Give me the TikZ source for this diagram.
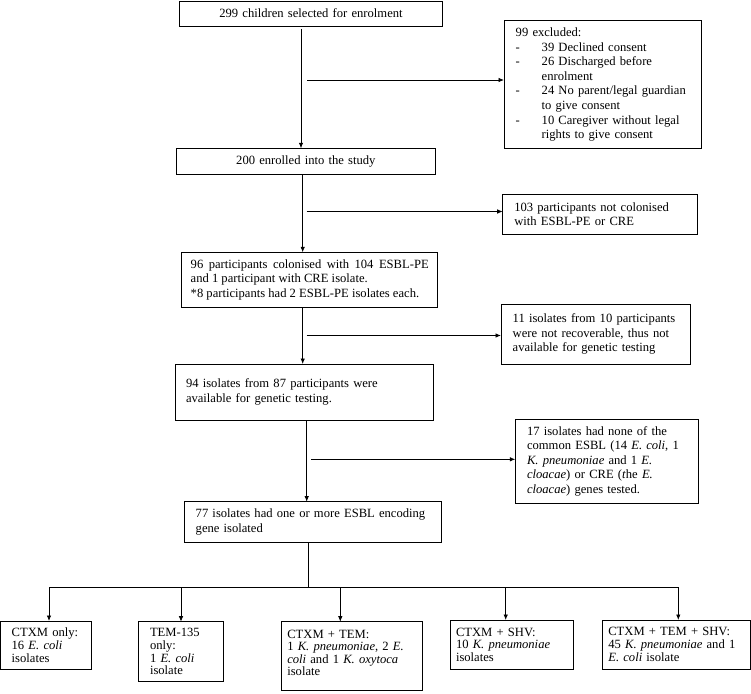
\documentclass[tikz,border=0pt]{standalone}
\usepackage{fontspec}
\setmainfont{Liberation Serif}
\usetikzlibrary{arrows.meta}
\begin{document}
\begin{tikzpicture}[x=1pt,y=-1pt,
  box/.style={draw, line width=0.9pt, anchor=north west, inner ysep=0pt, outer sep=0pt, align=left, font=\fontsize{12.6}{14.6}\selectfont},
  lowbox/.style={box, font=\fontsize{12.6}{12.6}\selectfont},
  arr/.style={-{Latex[length=5.5pt,width=4.5pt]}, line width=0.8pt},
  link/.style={line width=0.8pt}]
\useasboundingbox (0,0) rectangle (751,693);

% main column
\node[box, align=center, inner xsep=4pt, text width=255.4pt, minimum height=25pt] (b1) at (179.3,1) {299 children selected for enrolment};
\node[box, align=center, inner xsep=4pt, text width=250.3pt, minimum height=26pt] (b2) at (176.7,148.3) {200 enrolled into the study};
\node[box, align=justify, inner xsep=9pt, text width=238pt, minimum height=54.7pt] (b3) at (181.7,252.3) {96 participants colonised with 104 ESBL-PE\linebreak and 1 participant with CRE isolate.\\{*}8 participants had 2 ESBL-PE isolates each.};
\node[box, inner xsep=11pt, text width=236.3pt, minimum height=56pt] (b4) at (175,364) {94 isolates from 87 participants were\\available for genetic testing.};
\node[box, inner xsep=11.7pt, text width=234.3pt, minimum height=40.3pt] (b5) at (184,501.7) {77 isolates had one or more ESBL encoding\\gene isolated};

% side boxes
\node[box, inner xsep=11.7pt, text width=174.3pt, minimum height=127.6pt] (ex) at (504,20.7) {99 excluded:\\
\makebox[26pt][l]{-}39 Declined consent\\
\makebox[26pt][l]{-}26 Discharged before\\
\hspace*{26pt}enrolment\\
\makebox[26pt][l]{-}24 No parent/legal guardian\\
\hspace*{26pt}to give consent\\
\makebox[26pt][l]{-}10 Caregiver without legal\\
\hspace*{26pt}rights to give consent};
\node[box, inner xsep=11.6pt, text width=171.1pt, minimum height=40.3pt] (nc) at (502.7,194) {103 participants not colonised\\with ESBL-PE or CRE};
\node[box, inner xsep=11.7pt, text width=165.6pt, minimum height=60.3pt] (nr) at (501,304) {11 isolates from 10 participants\\were not recoverable, thus not\\available for genetic testing};
\node[box, inner xsep=11.7pt, text width=160pt, minimum height=84pt] (nn) at (515.3,419.3) {17 isolates had none of the\\common ESBL (14 \textit{E. coli}, 1\\\textit{K. pneumoniae} and 1 \textit{E.}\\\textit{cloacae}) or CRE (\textit{t}he \textit{E.}\\\textit{cloacae}) genes tested.};

% outcome boxes
\node[lowbox, inner xsep=11.1pt, text width=68.9pt, minimum height=48.3pt] (o1) at (0.6,621) {CTXM only:\\16 \textit{E. coli}\\isolates};
\node[lowbox, inner xsep=11.3pt, text width=62pt, minimum height=60pt] (o2) at (138.7,621.7) {TEM-135\\only:\\1 \textit{E. coli}\\isolate};
\node[lowbox, inner xsep=5.6pt, text width=129.4pt, minimum height=69pt] (o3) at (281.7,621.7) {CTXM + TEM:\\1 \textit{K. pneumoniae}, 2 \textit{E.}\\\textit{coli} and 1 \textit{K. oxytoca}\\isolate\\[-6pt]\mbox{}};
\node[lowbox, inner xsep=6pt, text width=111.3pt, minimum height=49pt] (o4) at (450,620) {CTXM + SHV:\\10 \textit{K. pneumoniae}\\isolates};
\node[lowbox, inner xsep=6pt, text width=136.1pt, minimum height=49pt] (o5) at (602.3,620) {CTXM + TEM + SHV:\\45 \textit{K. pneumoniae} and 1\\\textit{E. coli} isolate};

% vertical connectors
\coordinate (a1) at (301,0);
\coordinate (a2) at (302.7,0);
\coordinate (a3) at (302.7,0);
\coordinate (a4) at (306.7,0);
\draw[arr] ([yshift=-3pt]b1.south -| a1) -- (b2.north -| a1);
\draw[arr] (b2.south -| a2) -- (b3.north -| a2);
\draw[arr] (b3.south -| a3) -- (b4.north -| a3);
\draw[arr] (b4.south -| a4) -- (b5.north -| a4);

% side arrows
\coordinate (s1) at (307,80);
\coordinate (s2) at (306.7,211.5);
\coordinate (s3) at (306.7,335.5);
\coordinate (s4) at (311.3,459.3);
\draw[arr] (s1) -- (ex.west |- s1);
\draw[arr] (s2) -- (nc.west |- s2);
\draw[arr] (s3) -- (nr.west |- s3);
\draw[arr] (s4) -- (nn.west |- s4);

% distribution
\coordinate (j0) at (308.3,587);
\coordinate (j1) at (49,587);
\coordinate (j2) at (181,587);
\coordinate (j3) at (340.3,587);
\coordinate (j4) at (505.7,587);
\coordinate (j5) at (678.3,587);
\draw[link] (b5.south -| j0) -- (j0);
\draw[link] (j1) -- (j5);
\draw[arr] (j1) -- (o1.north -| j1);
\draw[arr] (j2) -- (o2.north -| j2);
\draw[arr] (j3) -- (o3.north -| j3);
\draw[arr] (j4) -- (o4.north -| j4);
\draw[arr] (j5) -- (o5.north -| j5);
\end{tikzpicture}
\end{document}
